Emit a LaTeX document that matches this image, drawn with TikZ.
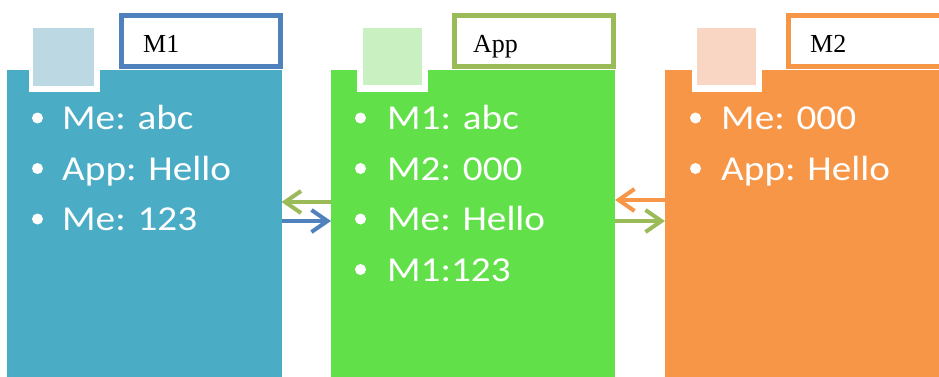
\documentclass[tikz,border=0pt]{standalone}
\usepackage{fontspec}
\setmainfont{Liberation Serif}
\newfontfamily\bodyfont{Carlito}
\usetikzlibrary{arrows.meta}
\definecolor{aquapanel}{RGB}{75,172,198}
\definecolor{greenpanel}{RGB}{98,224,74}
\definecolor{orangepanel}{RGB}{247,150,70}
\definecolor{aquatile}{RGB}{188,216,226}
\definecolor{greentile}{RGB}{200,240,192}
\definecolor{orangetile}{RGB}{249,213,195}
\definecolor{blueline}{RGB}{79,129,189}
\definecolor{greenline}{RGB}{155,187,89}
\definecolor{orangeline}{RGB}{247,150,70}
\tikzset{
  panel/.style={draw=none, inner sep=0pt, outer sep=0pt, anchor=north west},
  lblbox/.style={draw, line width=5pt, fill=white, inner sep=0pt, outer sep=0pt, anchor=north west},
  lbltext/.style={font=\fontsize{26}{30}\selectfont, text=black, inner sep=0pt, anchor=base west},
  item/.style={font=\bodyfont\fontsize{35}{40}\selectfont, text=white, inner sep=0pt, anchor=base west, xscale=1.12},
  arr/.style={line width=4pt, -{Straight Barb[length=16pt,width=22pt]}},
}
\newcommand{\bulletdot}[2]{\fill[white] (#1,#2) circle[radius=5.5pt];}
\begin{document}
\begin{tikzpicture}[x=1pt,y=-1pt]
\useasboundingbox (0,0) rectangle (939,376);
\clip (0,0) rectangle (939,376);

% three message panels
\node[panel, fill=aquapanel, minimum width=274.5pt, minimum height=310pt] (p1) at (7,70) {};
\node[panel, fill=greenpanel, minimum width=284pt, minimum height=310pt] (p2) at (331,70) {};
\node[panel, fill=orangepanel, minimum width=280pt, minimum height=310pt] (p3) at (665,70) {};

% small tiles with white frames
\fill[white] (29,27) rectangle (100,92);
\fill[aquatile] (33,28) rectangle (94,86);
\fill[white] (357,27) rectangle (428,92);
\fill[greentile] (363,28) rectangle (422,85);
\fill[white] (692,27) rectangle (762,92);
\fill[orangetile] (697,28) rectangle (756,85);

% title boxes
\node[lblbox, draw=blueline, minimum width=159pt, minimum height=51pt] (b1) at (121.5,15.5) {};
\node[lblbox, draw=greenline, minimum width=159pt, minimum height=51pt] (b2) at (454.5,15.5) {};
\node[lblbox, draw=orangeline, minimum width=170pt, minimum height=51pt] (b3) at (788.5,15.5) {};
\node[lbltext] (t1) at (143,52) {M1};
\node[lbltext] (t2) at (473,52) {App};
\node[lbltext] (t3) at (810,52) {M2};

% panel M1
\bulletdot{37.5}{118}\node[item] (a1) at (62,129.5) {Me: abc};
\bulletdot{37.5}{168.5}\node[item] (a2) at (62,180) {App: Hello};
\bulletdot{37.5}{219}\node[item] (a3) at (62,230.5) {Me: 123};

% panel App
\bulletdot{360.5}{118}\node[item] (g1) at (387,129.5) {M1: abc};
\bulletdot{360.5}{168.5}\node[item] (g2) at (387,180) {M2: 000};
\bulletdot{360.5}{219}\node[item] (g3) at (387,230.5) {Me: Hello};
\bulletdot{360.5}{269.5}\node[item] (g4) at (387,281) {M1:123};

% panel M2
\bulletdot{695.5}{118}\node[item] (o1) at (721,129.5) {Me: 000};
\bulletdot{695.5}{168.5}\node[item] (o2) at (721,180) {App: Hello};

% message arrows between panels
\draw[arr, greenline] (p2.west |- 0,202) -- (p1.east |- 0,202);
\draw[arr, blueline] (p1.east |- 0,221) -- (p2.west |- 0,221);
\draw[arr, orangeline] (p3.west |- 0,200) -- (p2.east |- 0,200);
\draw[arr, greenline] (p2.east |- 0,221) -- (p3.west |- 0,221);
\end{tikzpicture}
\end{document}
